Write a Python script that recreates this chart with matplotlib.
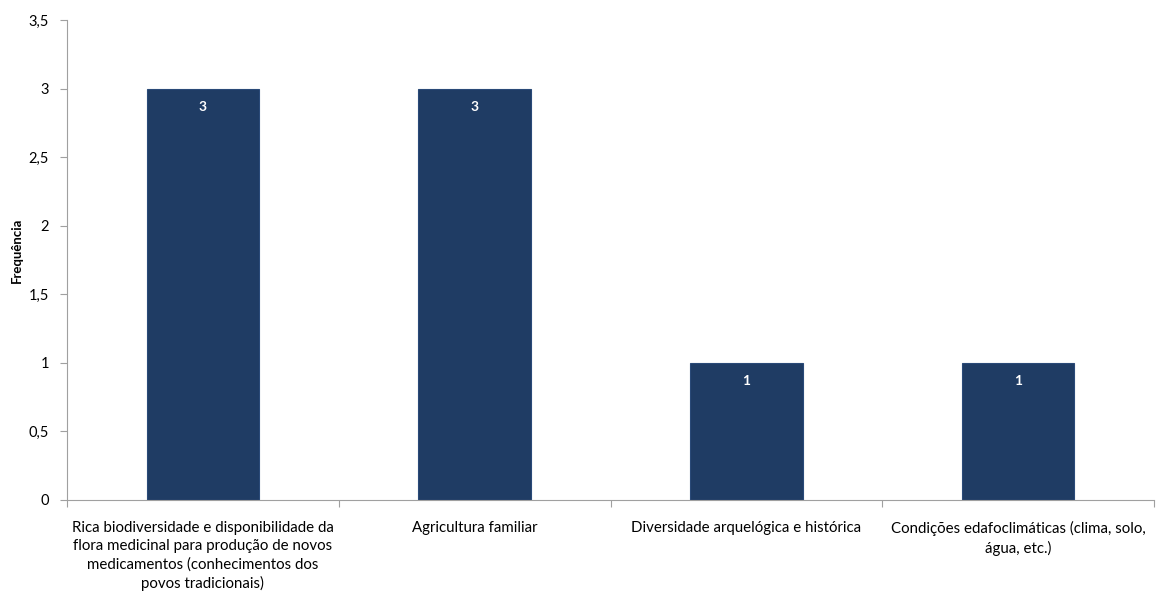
import matplotlib.pyplot as plt
import numpy as np

categorias = [
    "Rica biodiversidade e disponibilidade da\nflora medicinal para produção de novos\nmedicamentos (conhecimentos dos\npovos tradicionais)",
    "Agricultura familiar",
    "Diversidade arquelógica e histórica",
    "Condições edafoclimáticas (clima, solo,\nágua, etc.)",
]
frequencias = [3, 3, 1, 1]
yticks = [0, 0.5, 1, 1.5, 2, 2.5, 3, 3.5]
ytick_labels = ["0", "0,5", "1", "1,5", "2", "2,5", "3", "3,5"]

plt.rcParams["font.family"] = ["Lato", "DejaVu Sans"]

fig = plt.figure(figsize=(11.6, 5.95), dpi=100)
ax = fig.add_axes([0.0578, 0.1597, 0.937, 0.8063])

x = np.arange(len(categorias))
bars = ax.bar(x, frequencias, width=0.415, color="#1F3C64",
              edgecolor="#2A4A78", linewidth=0.8, zorder=2)

for rect, v in zip(bars, frequencias):
    ax.annotate(str(v), (rect.get_x() + rect.get_width() / 2, v),
                xytext=(0, -13), textcoords="offset points",
                ha="center", va="center", color="white",
                fontsize=10, fontweight="bold")

ax.set_xlim(-0.5, len(categorias) - 0.5)
ax.set_ylim(0, 3.5)
ax.set_yticks(yticks)
ax.set_yticklabels(ytick_labels, fontsize=10.5)

# ticks on the boundaries between categories, labels centred on the bars
ax.set_xticks(np.arange(-0.5, len(categorias) + 0.5, 1))
ax.set_xticklabels([])
ax.set_xticks(x, minor=True)
ax.set_xticklabels(categorias, minor=True, fontsize=10.8, linespacing=1.38,
                   va="top", ha="center")
ax.tick_params(axis="x", which="minor", length=0, pad=15)
ax.tick_params(axis="x", which="major", length=5, color="#A0A0A0")
ax.tick_params(axis="y", length=5, color="#A0A0A0", pad=8)

for side in ["top", "right"]:
    ax.spines[side].set_visible(False)
for side in ["left", "bottom"]:
    ax.spines[side].set_color("#A0A0A0")

ax.set_ylabel("Frequência", fontsize=9.5, fontweight="bold")
ax.yaxis.set_label_coords(-0.041, 0.52)

fig.savefig("out.png", dpi=100)
